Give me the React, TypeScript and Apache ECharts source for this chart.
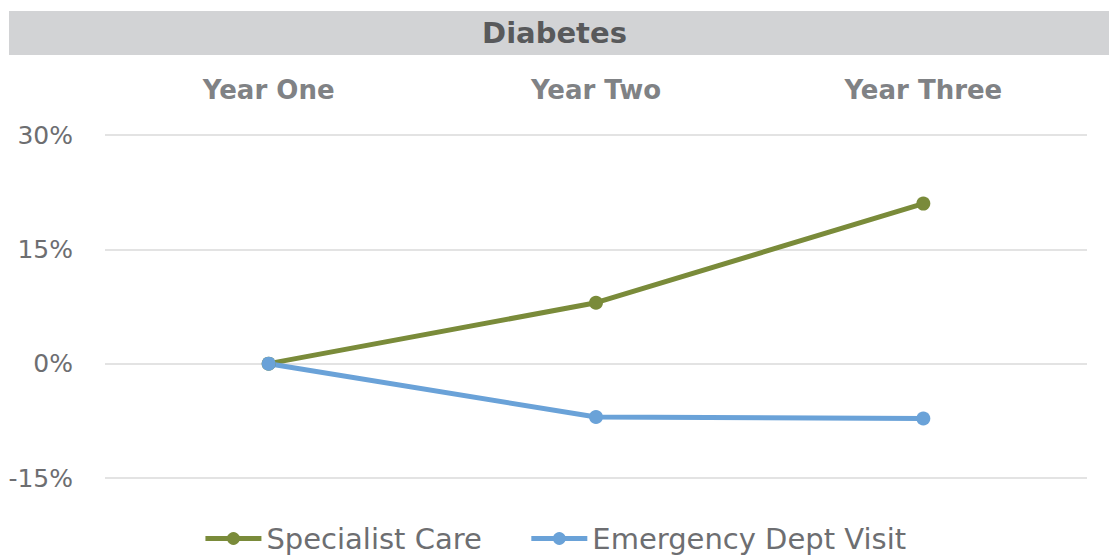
import React, { useEffect, useRef } from "react";
import * as echarts from "echarts";

const categories = ["Year One", "Year Two", "Year Three"];
const specialistCare = [0, 8, 21];
const emergencyDeptVisit = [0, -7, -7.2];
const seriesNames = ["Specialist Care", "Emergency Dept Visit"];
const chartTitle = "Diabetes";

const FONT = "'DejaVu Sans', 'Noto Sans', sans-serif";

export default function App() {
  const ref = useRef<HTMLDivElement>(null);
  useEffect(() => {
    if (!ref.current) return;
    const chart = echarts.init(ref.current, undefined, { renderer: "svg" });
    chart.setOption({
      animation: false,
      backgroundColor: "#ffffff",
      textStyle: { fontFamily: FONT },
      graphic: [
        {
          type: "rect",
          shape: { x: 9, y: 11, width: 1100, height: 44 },
          style: { fill: "#d2d3d5" },
          z: -1,
        },
      ],
      title: {
        text: chartTitle,
        left: "center",
        top: 13,
        textStyle: { fontFamily: FONT, fontWeight: "bold", fontSize: 29, color: "#58595b" },
      },
      legend: {
        bottom: -2,
        left: "center",
        itemWidth: 56,
        itemHeight: 16,
        itemGap: 47,
        data: seriesNames,
        lineStyle: { width: 5 },
        textStyle: { fontFamily: FONT, fontSize: 29, color: "#6d6e71" },
      },
      grid: { left: 105, right: 22, top: 135, bottom: 78 },
      xAxis: {
        type: "category",
        position: "top",
        data: categories,
        boundaryGap: true,
        axisLine: { show: false },
        axisTick: { show: false },
        axisLabel: {
          margin: 32,
          fontFamily: FONT,
          fontWeight: "bold",
          fontSize: 26,
          color: "#808285",
        },
      },
      yAxis: {
        type: "value",
        min: -15,
        max: 30,
        interval: 15,
        axisLine: { show: false },
        axisTick: { show: false },
        splitLine: { lineStyle: { color: "#e3e3e3", width: 2 } },
        axisLabel: {
          margin: 32,
          fontFamily: FONT,
          fontSize: 25,
          color: "#6d6e71",
          formatter: (v: number) => `${v}%`,
        },
      },
      series: [
        {
          name: seriesNames[0],
          type: "line",
          data: specialistCare,
          symbol: "circle",
          symbolSize: 14,
          lineStyle: { width: 5, color: "#7a8b3a" },
          itemStyle: { color: "#7a8b3a" },
        },
        {
          name: seriesNames[1],
          type: "line",
          data: emergencyDeptVisit,
          symbol: "circle",
          symbolSize: 14,
          lineStyle: { width: 5, color: "#6aa2d8" },
          itemStyle: { color: "#6aa2d8" },
        },
      ],
    });
    return () => chart.dispose();
  }, []);
  return (
    <div
      ref={ref}
      style={{ position: "fixed", left: 0, top: 0, width: 1109, height: 556 }}
    />
  );
}
